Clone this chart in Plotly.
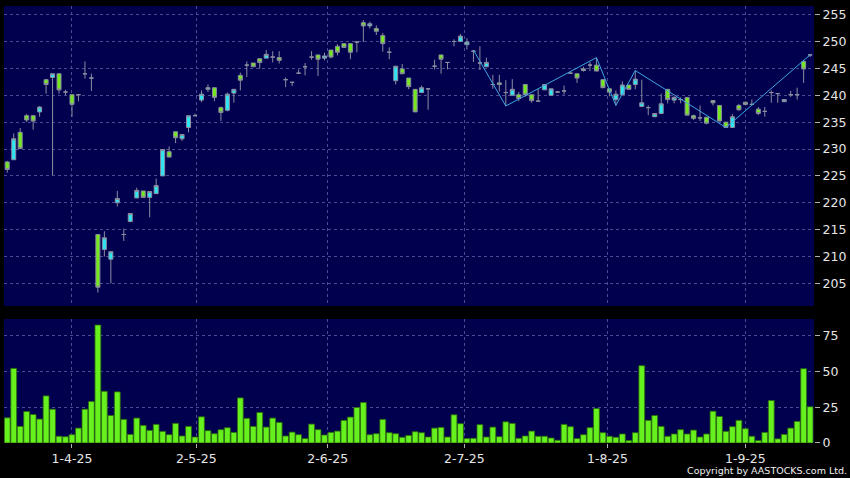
import plotly.graph_objects as go

# ---- data ----
opens = [227.6, 228.0, 233.1, 236.2, 236.2, 236.9, 242.9, 243.3, 244.0, 240.6,
         240.1, 240.1, 244.0, 243.2, 214.1, 211.3, 209.5, 220.0, 214.1, 216.5,
         220.9, 222.2, 221.0, 221.7, 225.0, 229.5, 233.2, 231.9, 234.0, 236.2,
         239.1, 241.1, 241.4, 237.7, 237.2, 240.4, 243.7, 245.6, 246.0, 246.8,
         246.9, 247.1, 247.0, 242.9, 242.4, 244.1, 245.3, 247.1, 247.5, 246.9,
         248.4, 249.1, 249.6, 249.6, 249.9, 253.5, 252.9, 252.4, 251.1, 248.0,
         242.7, 244.9, 243.2, 241.1, 240.5, 241.2, 245.4, 247.5, 246.1, 250.0,
         250.0, 249.4, 248.2, 246.0, 245.3, 242.0, 242.3, 240.5, 240.0, 240.1,
         242.0, 240.1, 238.9, 241.0, 240.0, 240.6, 240.8, 244.1, 244.0, 244.9,
         245.6, 245.6, 242.9, 241.2, 239.2, 240.1, 241.9, 242.0, 237.9, 237.7,
         236.0, 236.6, 241.1, 239.1, 239.2, 239.6, 236.2, 235.8, 235.9, 239.0,
         238.1, 235.0, 234.0, 238.1, 238.7, 238.3, 237.4, 237.0, 240.5, 240.3,
         238.8, 240.1, 240.1, 246.3, 247.5]
highs = [227.8, 232.9, 233.9, 236.5, 236.3, 238.0, 243.0, 244.0, 244.0, 241.0,
         240.1, 240.1, 246.3, 244.0, 214.1, 214.7, 210.9, 222.2, 215.2, 218.0,
         222.8, 222.2, 222.1, 224.5, 229.9, 230.5, 233.2, 232.7, 236.2, 236.6,
         240.9, 242.0, 241.4, 237.9, 240.5, 241.1, 244.2, 246.3, 246.0, 246.8,
         248.4, 248.2, 248.2, 243.3, 242.4, 244.8, 246.0, 248.2, 247.5, 247.9,
         248.4, 249.5, 249.6, 249.6, 249.9, 254.0, 253.7, 253.0, 251.6, 248.9,
         245.4, 245.8, 243.2, 241.1, 241.8, 241.2, 246.6, 247.5, 246.1, 250.4,
         251.4, 250.6, 248.4, 249.1, 247.0, 243.8, 243.8, 242.8, 243.0, 240.6,
         242.0, 240.1, 241.2, 242.0, 241.2, 240.8, 241.8, 244.4, 244.0, 245.3,
         246.2, 247.0, 242.9, 241.2, 240.9, 242.6, 241.9, 244.6, 242.9, 238.1,
         236.6, 240.3, 241.1, 239.8, 239.6, 239.6, 236.4, 238.1, 235.9, 239.1,
         238.1, 235.0, 236.5, 238.4, 238.8, 239.2, 237.8, 237.8, 240.9, 240.3,
         239.2, 240.8, 241.4, 246.6, 247.5]
lows = [225.6, 228.0, 230.0, 235.0, 233.6, 236.0, 240.3, 225.1, 240.3, 240.0,
        236.0, 238.9, 243.1, 240.8, 203.3, 210.0, 205.0, 219.3, 212.9, 216.5,
        220.9, 221.0, 217.3, 221.7, 225.0, 228.5, 231.1, 231.5, 233.1, 236.2,
        238.7, 240.6, 238.9, 235.2, 237.0, 238.6, 240.9, 243.4, 245.3, 244.9,
        246.9, 246.1, 245.9, 241.5, 241.7, 244.0, 243.7, 246.6, 243.6, 246.5,
        246.9, 247.4, 248.9, 246.7, 248.0, 249.9, 252.4, 251.2, 248.1, 246.7,
        242.0, 244.0, 241.1, 236.9, 240.5, 237.3, 244.8, 244.0, 244.8, 249.1,
        250.0, 248.5, 246.2, 244.7, 245.3, 241.2, 240.7, 238.0, 240.0, 238.9,
        239.7, 238.6, 238.9, 241.0, 240.0, 240.5, 240.1, 244.0, 242.3, 244.4,
        244.5, 244.5, 241.4, 239.8, 238.1, 240.1, 241.1, 241.1, 237.9, 236.3,
        236.0, 236.6, 238.5, 238.5, 238.5, 236.3, 235.4, 235.2, 234.6, 238.1,
        235.2, 234.0, 234.0, 237.1, 238.1, 238.1, 236.3, 236.0, 238.6, 238.6,
        238.8, 239.7, 239.2, 242.3, 247.1]
closes = [226.2, 231.9, 230.1, 235.4, 235.2, 237.8, 242.0, 244.0, 241.0, 240.6,
          238.3, 240.1, 244.0, 243.2, 204.3, 213.5, 210.9, 220.8, 214.1, 218.0,
          222.3, 221.0, 222.1, 223.2, 229.9, 228.5, 232.1, 232.7, 236.2, 236.2,
          240.2, 241.4, 239.6, 236.8, 240.2, 241.1, 242.8, 245.6, 245.3, 246.1,
          247.6, 247.1, 246.5, 242.9, 242.4, 244.1, 245.3, 247.1, 246.7, 247.3,
          247.1, 248.0, 248.9, 248.0, 249.9, 252.9, 253.3, 251.9, 249.6, 248.0,
          245.4, 244.0, 241.6, 236.9, 241.4, 241.2, 245.4, 246.7, 246.1, 250.0,
          251.0, 249.9, 248.2, 246.0, 246.1, 242.0, 242.0, 240.5, 241.1, 239.4,
          240.1, 239.0, 238.9, 242.0, 241.2, 240.6, 240.8, 244.1, 243.2, 244.6,
          245.6, 244.5, 241.4, 240.6, 240.2, 241.9, 241.1, 243.0, 238.6, 237.7,
          236.6, 238.4, 239.2, 239.6, 239.2, 236.3, 235.7, 235.8, 234.8, 238.6,
          235.2, 234.0, 236.0, 237.3, 238.3, 238.3, 236.6, 237.0, 240.5, 240.3,
          239.2, 240.1, 240.1, 244.9, 247.5]
volumes = [17.6, 52.1, 11.6, 22.0, 19.9, 16.7, 32.9, 23.6, 4.7, 4.4,
           5.8, 10.4, 23.6, 29.0, 82.4, 36.1, 19.2, 35.7, 16.5, 6.0,
           17.4, 12.3, 8.8, 13.0, 8.1, 5.8, 13.7, 4.9, 11.6, 4.2,
           18.3, 8.6, 6.5, 9.3, 10.7, 7.4, 31.5, 17.2, 11.6, 21.3,
           11.1, 17.4, 14.4, 4.9, 7.6, 5.8, 3.1, 13.2, 9.3, 5.6,
           7.4, 8.3, 15.8, 18.1, 24.8, 28.3, 5.8, 6.5, 16.5, 7.2,
           6.5, 4.0, 5.3, 7.9, 7.2, 4.2, 10.4, 10.9, 4.2, 19.7,
           13.5, 3.1, 3.3, 12.8, 4.2, 11.1, 4.4, 14.8, 13.7, 3.3,
           4.9, 8.3, 4.7, 4.7, 3.5, 1.9, 13.0, 11.4, 3.1, 5.8,
           10.7, 24.1, 7.2, 4.7, 4.0, 6.3, 1.7, 7.2, 54.0, 15.8,
           19.2, 11.6, 4.7, 6.3, 9.3, 6.3, 9.0, 4.2, 6.3, 22.2,
           18.5, 8.1, 11.4, 15.8, 10.0, 4.7, 1.7, 7.4, 29.7, 2.9,
           6.0, 10.4, 15.1, 51.9, 25.3]
tick_pos = [10, 29.2, 49.5, 70.6, 92.7, 114]
tick_labels = ["1-4-25", "2-5-25", "2-6-25", "2-7-25", "1-8-25", "1-9-25"]
price_ticks = [205, 210, 215, 220, 225, 230, 235, 240, 245, 250, 255]
volume_ticks = [0, 25, 50, 75]
zigzag_idx = [72, 77, 91, 94, 97, 111, 124]
zigzag_kind = ["H", "L", "H", "L", "H", "L", "H"]

# ---- figure ----
x = list(range(len(opens)))
zz_y = [highs[i] if k == "H" else lows[i] for i, k in zip(zigzag_idx, zigzag_kind)]

GRID = "#4a4a8e"
BORDER = "#8c8ca0"

fig = go.Figure()
fig.add_trace(go.Candlestick(
    x=x, open=opens, high=highs, low=lows, close=closes,
    increasing=dict(line=dict(color=BORDER, width=1), fillcolor="#2ee6f2"),
    decreasing=dict(line=dict(color=BORDER, width=1), fillcolor="#74ea1e"),
    whiskerwidth=0, xaxis="x", yaxis="y", hoverinfo="skip", showlegend=False))
fig.add_trace(go.Scatter(
    x=zigzag_idx, y=zz_y, mode="lines", xaxis="x", yaxis="y",
    line=dict(color="#3fa6e2", width=1), hoverinfo="skip", showlegend=False))
fig.add_trace(go.Bar(
    x=x, y=volumes, xaxis="x2", yaxis="y2",
    marker=dict(color="#66f01e", line=dict(color="#2c6a0c", width=0.8)),
    hoverinfo="skip", showlegend=False))

common_x = dict(range=[-0.5, 124.6], tickvals=tick_pos, showgrid=True,
                gridcolor=GRID, griddash="3px,3px", gridwidth=1,
                zeroline=False, showline=False, fixedrange=True)
common_y = dict(side="right", ticks="outside", ticklen=5, tickcolor="#b0b0b0",
                showgrid=True, gridcolor=GRID, griddash="3px,3px", gridwidth=1,
                zeroline=False, showline=False, fixedrange=True,
                tickfont=dict(size=12.5, color="#e6e6e6"))

fig.update_layout(
    width=850, height=478,
    margin=dict(l=4, r=33, t=6, b=35),
    paper_bgcolor="#000000", plot_bgcolor="#00004e",
    font=dict(family="DejaVu Sans", color="#e6e6e6", size=12),
    showlegend=False, boxgap=0.12, bargap=0.1,
    xaxis=dict(domain=[0, 1], anchor="y", showticklabels=False, ticks="",
               rangeslider=dict(visible=False), **common_x),
    xaxis2=dict(domain=[0, 1], anchor="y2", ticktext=tick_labels, ticks="outside",
                ticklen=4, tickcolor="#b0b0b0", tickfont=dict(size=12.5, color="#e6e6e6"),
                **common_x),
    yaxis=dict(domain=[0.3135, 1], anchor="x", range=[200.8, 256.6],
               tickvals=price_ticks, **common_y),
    yaxis2=dict(domain=[0, 0.2838], anchor="x2", range=[0, 86.6],
                tickvals=volume_ticks, **common_y),
    annotations=[dict(text="Copyright by AASTOCKS.com Ltd.", xref="paper", yref="paper",
                      x=1.043, y=-0.064, xanchor="right", yanchor="middle",
                      showarrow=False, font=dict(size=9.5, color="#f0f0f0"))],
)

fig.write_html("out.html", config={"displayModeBar": False},
               post_script="document.body.style.margin='0';document.body.style.background='#000';")
